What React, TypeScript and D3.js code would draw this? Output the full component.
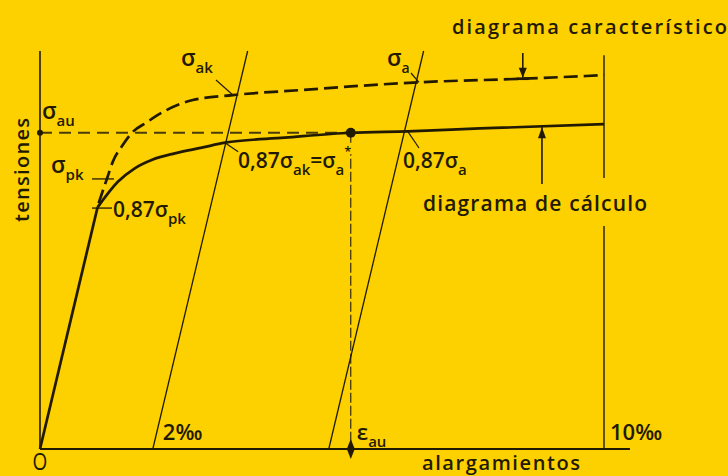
import * as d3 from "d3";

const W = 728;
const H = 476;
const BG = "#fdd000";
const INK = "#221a00";
const FONT = "'Open Sans', 'DejaVu Sans', sans-serif";

// strain in ‰, stress in drawing units
const charStrain = [1.04, 1.19, 1.29, 1.47, 1.63, 1.9, 2.09, 2.71, 3.42, 4.61, 6.72, 8.56, 10];
const charStress = [346, 381, 404, 428, 445, 460, 470, 491, 498, 505, 516, 521, 526];
const designStrain = [0, 1.02, 1.38, 1.68, 1.99, 2.39, 2.87, 3.28, 4.34, 5.51, 6.52, 7.8, 10];
const designStress = [0, 340, 376, 395, 407, 416, 424, 431, 438, 445, 447, 451, 457];
const unloadOffsets = [2, 5.12];
const modulus = 333; // stress per ‰, slope of the elastic branch
const sigmaAu = 445;
const epsAu = 5.51;
const sigmaPk = 380;
const sigmaPkD = 339;
const strainTicks = [2, 10];
const tickLabels = ["2‰", "10‰"];
const strainMax = 10.46;
const stressMax = 560;

const x = d3.scaleLinear().domain([0, 10]).range([40, 604]);
const y = d3.scaleLinear().domain([0, stressMax]).range([449, 51]);

const charPts: [number, number][] = charStrain.map((e, i) => [e, charStress[i]]);
const designPts: [number, number][] = designStrain.map((e, i) => [e, designStress[i]]);

const curve = d3
  .line<[number, number]>()
  .x((d) => x(d[0]))
  .y((d) => y(d[1]))
  .curve(d3.curveMonotoneX);
const straight = d3
  .line<[number, number]>()
  .x((d) => x(d[0]))
  .y((d) => y(d[1]));

// point on a curve at given strain (linear between read points)
const stressAt = (pts: [number, number][], e: number) => {
  const i = d3.bisector((d: [number, number]) => d[0]).left(pts, e);
  if (i <= 0) return pts[0][1];
  if (i >= pts.length) return pts[pts.length - 1][1];
  const [e0, s0] = pts[i - 1];
  const [e1, s1] = pts[i];
  return s0 + ((s1 - s0) * (e - e0)) / (e1 - e0);
};

const Sub = ({ x0, y0, main, sub, size = 21, subSize = 15 }: any) => (
  <text x={x0} y={y0} fontSize={size} fill={INK}>
    {main}
    <tspan dy={7} fontSize={subSize}>
      {sub}
    </tspan>
  </text>
);

export default function App() {
  const arrowDownE = 8.56;
  const arrowUpE = 8.9;
  const yTop = y(sigmaAu);
  const yDown = y(stressAt(charPts, arrowDownE));
  const yUp = y(stressAt(designPts, arrowUpE));
  return (
    <svg
      width={W}
      height={H}
      style={{ position: "fixed", left: 0, top: 0, background: BG }}
      fontFamily={FONT}
      fontWeight={600}
    >
      <rect width={W} height={H} fill={BG} />

      {/* axes */}
      <line x1={x(0)} y1={y(0)} x2={x(0)} y2={y(stressMax)} stroke={INK} strokeWidth={1.6} />
      <line x1={x(0)} y1={y(0)} x2={x(strainMax)} y2={y(0)} stroke={INK} strokeWidth={1.8} />
      <line x1={x(10)} y1={y(0)} x2={x(10)} y2={y(554)} stroke={INK} strokeWidth={1.4} />

      {/* unloading lines parallel to the elastic branch */}
      {unloadOffsets.map((o) => (
        <line
          key={o}
          x1={x(o)}
          y1={y(0)}
          x2={x(o + stressMax / modulus)}
          y2={y(stressMax)}
          stroke={INK}
          strokeWidth={1.3}
        />
      ))}

      {/* sigma_au level and eps_au */}
      <line
        x1={x(0)}
        y1={yTop}
        x2={x(epsAu)}
        y2={yTop}
        stroke="#4a3c08"
        strokeWidth={2}
        strokeDasharray="12,7"
      />
      <line
        x1={x(epsAu)}
        y1={yTop}
        x2={x(epsAu)}
        y2={y(0)}
        stroke={INK}
        strokeWidth={1.1}
        strokeDasharray="10,3"
      />

      {/* characteristic diagram */}
      <path d={curve(charPts) || ""} fill="none" stroke={INK} strokeWidth={2.7} strokeDasharray="14,6" />
      {/* design diagram */}
      <path d={straight(designPts.slice(0, 2)) || ""} fill="none" stroke={INK} strokeWidth={2.7} />
      <path d={curve(designPts.slice(1)) || ""} fill="none" stroke={INK} strokeWidth={2.7} />

      {/* markers */}
      <circle cx={x(0)} cy={yTop} r={3} fill={INK} />
      <circle cx={x(epsAu)} cy={yTop} r={5} fill={INK} />
      <path
        d={d3.symbol().type(d3.symbolDiamond).size(55)() || ""}
        transform={`translate(${x(epsAu)},${y(0)}) scale(1,1.45)`}
        fill={INK}
      />

      {/* sigma_pk ticks */}
      <line x1={92} y1={y(sigmaPk)} x2={114} y2={y(sigmaPk)} stroke={INK} strokeWidth={1.3} />
      <line x1={92} y1={y(sigmaPkD)} x2={112} y2={y(sigmaPkD)} stroke={INK} strokeWidth={1.3} />

      {/* leaders */}
      <line x1={216} y1={80} x2={x(3.42)} y2={y(498)} stroke={INK} strokeWidth={1.2} />
      <line x1={411} y1={73} x2={x(6.72)} y2={y(516)} stroke={INK} strokeWidth={1.2} />
      <line x1={x(3.28)} y1={y(431)} x2={240} y2={153} stroke={INK} strokeWidth={1.2} />
      <line x1={x(6.52)} y1={y(447)} x2={419} y2={148} stroke={INK} strokeWidth={1.2} />

      {/* arrows */}
      <line x1={x(arrowDownE)} y1={53} x2={x(arrowDownE)} y2={yDown} stroke={INK} strokeWidth={1.6} />
      <path
        d={`M${x(arrowDownE) - 4},${yDown - 11} L${x(arrowDownE) + 4},${yDown - 11} L${x(arrowDownE)},${yDown - 1} Z`}
        fill={INK}
      />
      <line
        x1={x(arrowDownE) - 6}
        y1={yDown}
        x2={x(arrowDownE) + 6}
        y2={yDown}
        stroke={INK}
        strokeWidth={2.7}
      />
      <line x1={x(arrowUpE)} y1={184} x2={x(arrowUpE)} y2={yUp} stroke={INK} strokeWidth={1.6} />
      <path
        d={`M${x(arrowUpE) - 4},${yUp + 12} L${x(arrowUpE) + 4},${yUp + 12} L${x(arrowUpE)},${yUp + 1} Z`}
        fill={INK}
      />

      {/* labels */}
      <Sub x0={42} y0={119} main="σ" sub="au" size={23} />
      <Sub x0={51} y0={173} main="σ" sub="pk" size={23} />
      <Sub x0={113} y0={217} main="0,87σ" sub="pk" />
      <Sub x0={181} y0={66} main="σ" sub="ak" size={23} />
      <Sub x0={387} y0={66} main="σ" sub="a" size={23} subSize={14} />
      <text x={238} y={168} fontSize={21} fill={INK} stroke={BG} strokeWidth={6} paintOrder="stroke">
        0,87σ
        <tspan dy={7} fontSize={15}>
          ak
        </tspan>
        <tspan dy={-7}>=σ</tspan>
        <tspan dy={7} fontSize={15}>
          a
        </tspan>
        <tspan dy={-19} fontSize={13}>
          *
        </tspan>
      </text>
      <Sub x0={403} y0={168} main="0,87σ" sub="a" />

      <text x={452} y={34} fontSize={20} fill={INK} textLength={275}>
        diagrama característico
      </text>
      <rect x={x(10) - 5} y={178} width={10} height={48} fill={BG} />
      <text x={423} y={211} fontSize={21} fill={INK} textLength={224}>
        diagrama de cálculo
      </text>

      <text
        transform={`translate(29,170) rotate(-90)`}
        textAnchor="middle"
        fontSize={20}
        fill={INK}
        textLength={104}
      >
        tensiones
      </text>
      <text x={422} y={470} fontSize={20} fill={INK} textLength={158}>
        alargamientos
      </text>
      <text
        transform={`translate(${x(0)},470) scale(1,1.2)`}
        fontSize={19}
        fontWeight={400}
        fill={INK}
        textAnchor="middle"
      >
        O
      </text>
      {strainTicks.map((t, i) => (
        <text key={t} x={x(t) + (t === 10 ? 6 : 10)} y={440} fontSize={22} fill={INK}>
          {tickLabels[i]}
        </text>
      ))}
      <Sub x0={x(epsAu) + 6} y0={440} main="ε" sub="au" size={22} />
    </svg>
  );
}
